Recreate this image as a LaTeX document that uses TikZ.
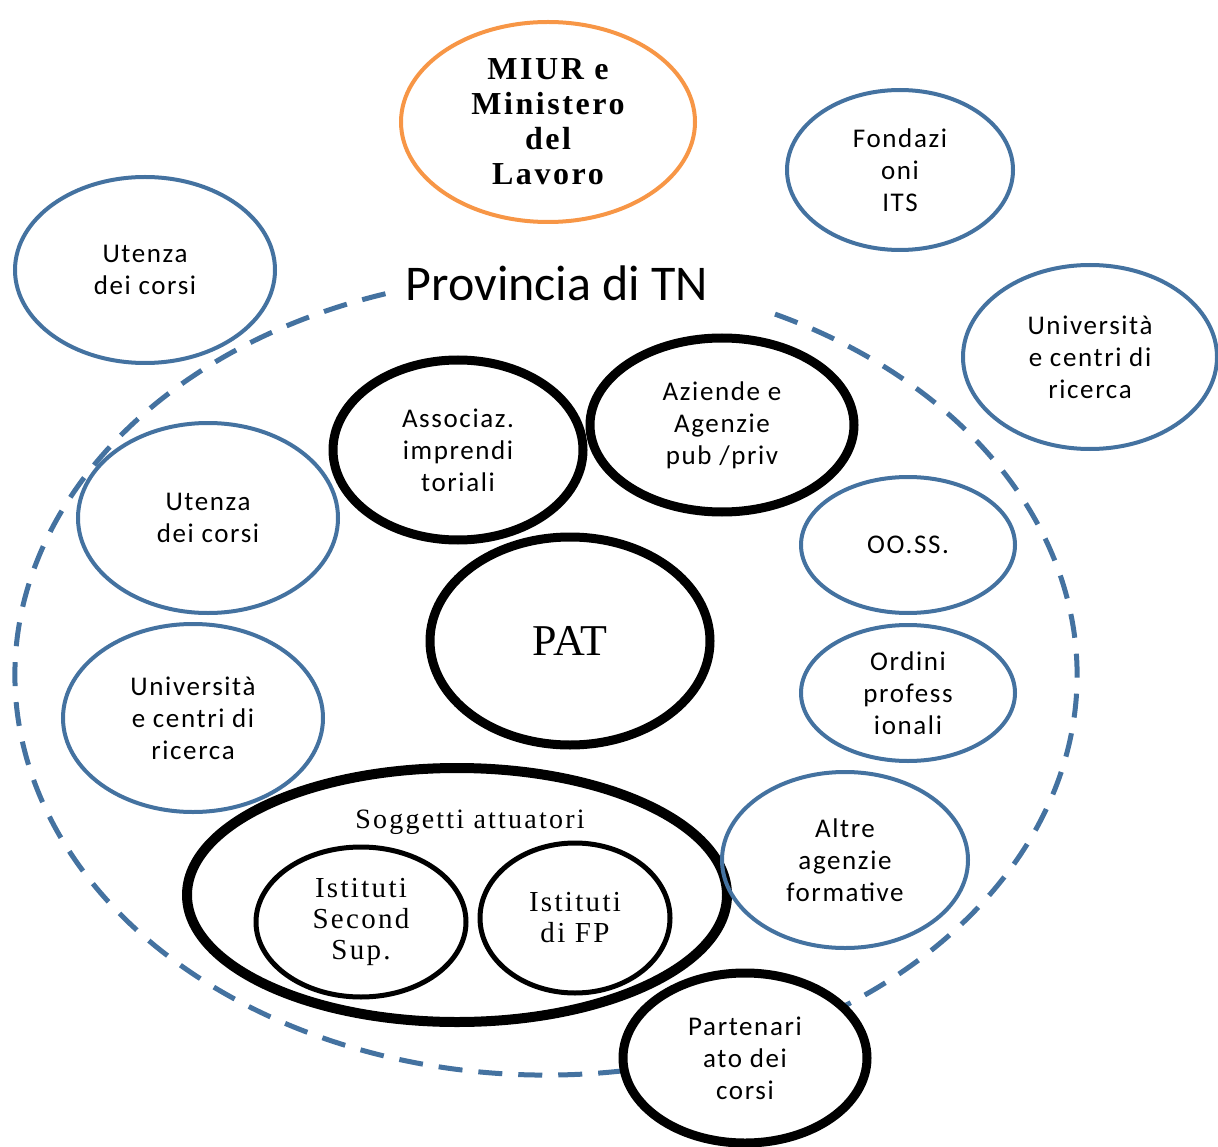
\documentclass[tikz,border=0pt]{standalone}
\usepackage{fontspec}
\setmainfont{Liberation Serif}
\newfontfamily\calfont[LetterSpace=6]{Carlito}
\newfontfamily\calplain{Carlito}
\newfontfamily\serifwide[LetterSpace=8]{Liberation Serif}
\usetikzlibrary{shapes.geometric, calc}
\definecolor{ringblue}{RGB}{68,114,160}
\definecolor{ringorange}{RGB}{247,150,70}
\tikzset
{%
bubble/.style 2 args={ellipse, inner sep=0pt, align=center, minimum width=#1pt, minimum height=#2pt},
bluering/.style={draw=ringblue, line width=4pt, font=\calfont\fontsize{27}{32}\selectfont},
blackring/.style={draw=black, line width=9pt, font=\calfont\fontsize{27}{32}\selectfont},
thinring/.style={draw=black, line width=5pt, font=\serifwide\fontsize{29}{31}\selectfont},
provdash/.style={draw=ringblue, line width=5pt, dash pattern=on 24pt off 16pt}
}
\begin{document}
\begin{tikzpicture}[x=1pt, y=-1pt]
	\useasboundingbox (0,0) rectangle (1218,1147);
	
	% PROVINCIA
	\coordinate (prov) at (546,675);
	\draw[provdash] ($(prov)+(252.4:531 and 400)$) arc[start angle=252.4, end angle=-65, x radius=531, y radius=400];
	\node[font=\calplain\fontsize{50}{60}\selectfont] (provtxt) at (557,283) {Provincia di TN};
	
	% OUTSIDE
	\node[bubble={294}{200}, draw=ringorange, line width=4pt, font=\serifwide\bfseries\fontsize{32}{35}\selectfont] (miur) at (548,122) {MIUR e\\Ministero\\del\\Lavoro};
	\node[bubble={226}{160}, bluering] (fond) at (900,170) {Fondazi\\oni\\ITS};
	\node[bubble={260}{186}, bluering] (utout) at (145,270) {Utenza\\dei corsi};
	\node[bubble={254}{184}, bluering] (uniout) at (1090,357) {Università\\e centri di\\ricerca};
	
	% INSIDE
	\node[bubble={250}{180}, blackring] (assoc) at (458,450) {Associaz.\\imprendi\\toriali};
	\node[bubble={264}{174}, blackring] (azi) at (722,425) {Aziende e\\Agenzie\\pub /priv};
	\node[bubble={260}{190}, bluering] (utin) at (208,518) {Utenza\\dei corsi};
	\node[bubble={214}{136}, bluering] (ooss) at (908,545) {OO.SS.};
	\node[bubble={280}{208}, blackring, font=\fontsize{44}{50}\selectfont] (pat) at (570,641) {PAT};
	\node[bubble={214}{136}, bluering] (ord) at (908,693) {Ordini\\profess\\ionali};
	\node[bubble={260}{188}, bluering] (uniin) at (193,718) {Università\\e centri di\\ricerca};
	
	% SOGGETTI ATTUATORI
	\node[bubble={540}{254}, draw=black, line width=10pt] (sogg) at (457,895) {};
	\node[font=\serifwide\fontsize{28}{31}\selectfont] (soggtxt) at (470,822) {Soggetti attuatori};
	\node[bubble={210}{150}, thinring] (ist1) at (361,922) {Istituti\\Second\\Sup.};
	\node[bubble={190}{150}, thinring] (ist2) at (575,918) {Istituti\\di FP};
	\node[bubble={246}{176}, bluering] (altre) at (845,860) {Altre\\agenzie\\formative};
	\node[bubble={244}{170}, blackring, fill=white] (part) at (745,1058) {Partenari\\ato dei\\corsi};
\end{tikzpicture}
\end{document}
